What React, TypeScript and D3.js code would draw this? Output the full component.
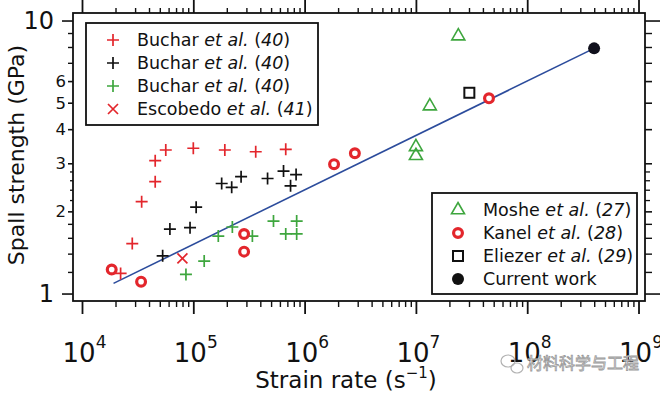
import React from 'react';
import * as d3 from 'd3';

// data (strain rate in s^-1, spall strength in GPa)
const redPlusX = [2.2e4, 2.8e4, 3.4e4, 4.5e4, 4.5e4, 5.6e4, 9.9e4, 1.9e5, 3.6e5, 6.7e5];
const redPlusY = [1.19, 1.53, 2.18, 2.58, 3.08, 3.37, 3.42, 3.37, 3.32, 3.39];
const blackPlusX = [5.25e4, 6.1e4, 9.25e4, 1.05e5, 1.78e5, 2.19e5, 2.66e5, 4.6e5, 6.4e5, 8.3e5, 7.4e5];
const blackPlusY = [1.38, 1.73, 1.75, 2.08, 2.54, 2.46, 2.69, 2.65, 2.82, 2.74, 2.49];
const greenPlusX = [8.5e4, 1.24e5, 1.66e5, 2.22e5, 3.36e5, 5.2e5, 8.4e5, 6.7e5, 8.4e5];
const greenPlusY = [1.18, 1.32, 1.63, 1.76, 1.63, 1.85, 1.85, 1.66, 1.66];
const escobedoX = [7.9e4];
const escobedoY = [1.35];
const kanelX = [1.83e4, 3.36e4, 2.83e5, 2.83e5, 1.82e6, 2.8e6, 4.49e7];
const kanelY = [1.23, 1.11, 1.66, 1.43, 2.99, 3.28, 5.21];
const mosheX = [9.9e6, 9.9e6, 1.32e7, 2.38e7];
const mosheY = [3.21, 3.46, 4.88, 8.81];
const eliezerX = [2.99e7];
const eliezerY = [5.46];
const currentX = [3.95e8];
const currentY = [7.94];
const fitX = [1.9e4, 3.95e8];
const fitY = [1.094, 7.94];

const xDecades = [4, 5, 6, 7, 8, 9];
const yLabelled = [1, 2, 3, 4, 5, 6, 10];
const yBig = [1, 10];
const yMinor = [1.2, 1.4, 1.6, 1.8, 7, 8, 9];
const yTiny = [2.2, 2.4, 2.6, 2.8];

const RED = '#e3262c';
const GREEN = '#3ea63e';
const BLUE = '#2c4c9c';
const FONT = '"DejaVu Sans", Verdana, sans-serif';

const L = 73, R = 645, T = 13, B = 301;

const x = d3.scaleLog().domain([8216, 1.132e9]).range([L, R]);
const y = d3.scaleLog().domain([0.943, 10.7]).range([B, T]);

const zip = (xs: number[], ys: number[]) => xs.map((v, i) => [v, ys[i]] as [number, number]);

const plusPath = 'M-6,0H6M0,-6V6';
const crossPath = 'M-5,-5L5,5M-5,5L5,-5';
const triPath = 'M0,-7.5L6.5,3.8L-6.5,3.8Z';

type Kind = 'plus' | 'cross' | 'ring' | 'tri' | 'square' | 'dot';

const Marker: React.FC<{ kind: Kind; color: string; cx: number; cy: number }> = ({ kind, color, cx, cy }) => {
    const tr = `translate(${cx},${cy})`;
    if (kind === 'plus') return <path transform={tr} d={plusPath} stroke={color} strokeWidth={1.7} fill="none" />;
    if (kind === 'cross') return <path transform={tr} d={crossPath} stroke={color} strokeWidth={1.7} fill="none" />;
    if (kind === 'ring') return <circle cx={cx} cy={cy} r={4.4} stroke={color} strokeWidth={3.2} fill="#fff" />;
    if (kind === 'tri') return <path transform={tr} d={triPath} stroke={color} strokeWidth={1.6} fill="none" />;
    if (kind === 'square') return <rect x={cx - 5} y={cy - 5} width={10} height={10} stroke={color} strokeWidth={2} fill="none" />;
    return <circle cx={cx} cy={cy} r={6} fill={color} />;
};

const Label: React.FC<{ name: string; num: string }> = ({ name, num }) => (
    <>
        <tspan>{name} </tspan>
        <tspan fontStyle="italic">et al.</tspan>
        <tspan> (</tspan>
        <tspan fontStyle="italic">{num}</tspan>
        <tspan>)</tspan>
    </>
);

const App: React.FC = () => {
    const series: { kind: Kind; color: string; pts: [number, number][] }[] = [
        { kind: 'plus', color: RED, pts: zip(redPlusX, redPlusY) },
        { kind: 'plus', color: '#111', pts: zip(blackPlusX, blackPlusY) },
        { kind: 'plus', color: GREEN, pts: zip(greenPlusX, greenPlusY) },
        { kind: 'cross', color: RED, pts: zip(escobedoX, escobedoY) },
        { kind: 'tri', color: GREEN, pts: zip(mosheX, mosheY) },
    ];

    const fitLine = d3.line<[number, number]>().x(d => x(d[0])).y(d => y(d[1]))(zip(fitX, fitY)) || '';

    const xMinor: number[] = [];
    xDecades.slice(0, -1).forEach(e => {
        for (let k = 2; k <= 9; k++) xMinor.push(k * Math.pow(10, e));
    });

    const legend1 = [
        { kind: 'plus' as Kind, color: RED, name: 'Buchar', num: '40' },
        { kind: 'plus' as Kind, color: '#111', name: 'Buchar', num: '40' },
        { kind: 'plus' as Kind, color: GREEN, name: 'Buchar', num: '40' },
        { kind: 'cross' as Kind, color: RED, name: 'Escobedo', num: '41' },
    ];
    const legend1Y = [40, 63, 86, 109];
    const legend2 = [
        { kind: 'tri' as Kind, color: GREEN, name: 'Moshe', num: '27' },
        { kind: 'ring' as Kind, color: RED, name: 'Kanel', num: '28' },
        { kind: 'square' as Kind, color: '#111', name: 'Eliezer', num: '29' },
        { kind: 'dot' as Kind, color: '#111', name: '', num: '' },
    ];
    const legend2Y = [210, 233, 256, 279];

    return (
        <div style={{ position: 'absolute', left: 0, top: 0 }}>
            <svg width={660} height={394} style={{ display: 'block', background: '#fff' }} fontFamily={FONT}>
                {/* frame */}
                <rect x={L} y={T} width={R - L} height={B - T} fill="none" stroke="#111" strokeWidth={1.8} />

                {/* x ticks, bottom and top */}
                {xDecades.map(e => {
                    const px = x(Math.pow(10, e));
                    return (
                        <g key={'xd' + e} stroke="#111" strokeWidth={1.8}>
                            <line x1={px} x2={px} y1={B} y2={B + 13} />
                            <line x1={px} x2={px} y1={T} y2={0} />
                        </g>
                    );
                })}
                {xMinor.map((v, i) => {
                    const px = x(v);
                    return (
                        <g key={'xm' + i} stroke="#111" strokeWidth={1.4}>
                            <line x1={px} x2={px} y1={B} y2={B + 6} />
                            <line x1={px} x2={px} y1={T} y2={T - 5} />
                        </g>
                    );
                })}

                {/* y ticks, left and right */}
                {yLabelled.map(v => {
                    const py = y(v);
                    const len = yBig.includes(v) ? 11 : 5;
                    const lenR = yBig.includes(v) ? 15 : 7;
                    return (
                        <g key={'yt' + v} stroke="#111" strokeWidth={1.6}>
                            <line x1={L} x2={L - len} y1={py} y2={py} />
                            <line x1={R} x2={R + lenR} y1={py} y2={py} />
                        </g>
                    );
                })}
                {yMinor.map(v => {
                    const py = y(v);
                    return (
                        <g key={'ym' + v} stroke="#111" strokeWidth={1.4}>
                            <line x1={L} x2={L - 5} y1={py} y2={py} />
                            <line x1={R} x2={R + 7} y1={py} y2={py} />
                        </g>
                    );
                })}
                {yTiny.map(v => {
                    const py = y(v);
                    return (
                        <g key={'yy' + v} stroke="#111" strokeWidth={1.3}>
                            <line x1={L} x2={L - 3} y1={py} y2={py} />
                            <line x1={R} x2={R + 5} y1={py} y2={py} />
                        </g>
                    );
                })}

                {/* y tick labels */}
                {yLabelled.map(v => {
                    const big = yBig.includes(v);
                    return (
                        <text key={'yl' + v} x={big ? 54 : 66} y={y(v)} dominantBaseline="central"
                            textAnchor="end" fontSize={big ? 24 : 16.5} fill="#111">{v}</text>
                    );
                })}

                {/* x tick labels */}
                {xDecades.map(e => (
                    <text key={'xl' + e} x={x(Math.pow(10, e)) + 2} y={362} textAnchor="middle" fontSize={26} fill="#111">
                        10<tspan fontSize={17} dy={-14}>{e}</tspan>
                    </text>
                ))}

                {/* axis titles */}
                <text x={346} y={388} textAnchor="middle" fontSize={23} fill="#111">
                    Strain rate (s<tspan fontSize={15} dy={-10}>−1</tspan><tspan dy={10}>)</tspan>
                </text>
                <text transform="translate(24,155) rotate(-90)" textAnchor="middle" fontSize={22} fill="#111">
                    Spall strength (GPa)
                </text>

                {/* fit line */}
                <path d={fitLine} stroke={BLUE} strokeWidth={1.6} fill="none" />

                {/* data */}
                {series.map((s, si) => s.pts.map((p, i) => (
                    <Marker key={si + '-' + i} kind={s.kind} color={s.color} cx={x(p[0])} cy={y(p[1])} />
                )))}
                {zip(kanelX, kanelY).map((p, i) => (
                    <Marker key={'k' + i} kind="ring" color={RED} cx={x(p[0])} cy={y(p[1])} />
                ))}
                {zip(eliezerX, eliezerY).map((p, i) => (
                    <Marker key={'e' + i} kind="square" color="#111" cx={x(p[0])} cy={y(p[1])} />
                ))}
                {zip(currentX, currentY).map((p, i) => (
                    <Marker key={'c' + i} kind="dot" color="#10101c" cx={x(p[0])} cy={y(p[1])} />
                ))}

                {/* legend 1 */}
                <rect x={86} y={23} width={232} height={102} fill="#fff" stroke="#111" strokeWidth={1.8} />
                {legend1.map((d, i) => (
                    <g key={'l1' + i}>
                        <Marker kind={d.kind} color={d.color} cx={113} cy={legend1Y[i]} />
                        <text x={137} y={legend1Y[i]} dominantBaseline="central" fontSize={17.5} fill="#111">
                            <Label name={d.name} num={d.num} />
                        </text>
                    </g>
                ))}

                {/* legend 2 */}
                <rect x={432} y={193} width={205} height={101} fill="#fff" stroke="#111" strokeWidth={1.8} />
                {legend2.map((d, i) => (
                    <g key={'l2' + i}>
                        <Marker kind={d.kind} color={d.color} cx={458} cy={legend2Y[i]} />
                        <text x={483} y={legend2Y[i]} dominantBaseline="central" fontSize={17.5} fill="#111">
                            {d.name ? <Label name={d.name} num={d.num} /> : 'Current work'}
                        </text>
                    </g>
                ))}

                {/* watermark */}
                <g stroke="#aaa" strokeWidth={1.2} fill="none" opacity={0.9}>
                    <ellipse cx={508} cy={361} rx={7} ry={6} />
                    <ellipse cx={517} cy={368} rx={6} ry={5} />
                </g>
                <text x={527} y={369} fontSize={16} fill="#fff" stroke="#999" strokeWidth={0.8}
                    fontFamily='"Noto Sans CJK SC", sans-serif'>材料科学与工程</text>
            </svg>
        </div>
    );
};

export default App;
